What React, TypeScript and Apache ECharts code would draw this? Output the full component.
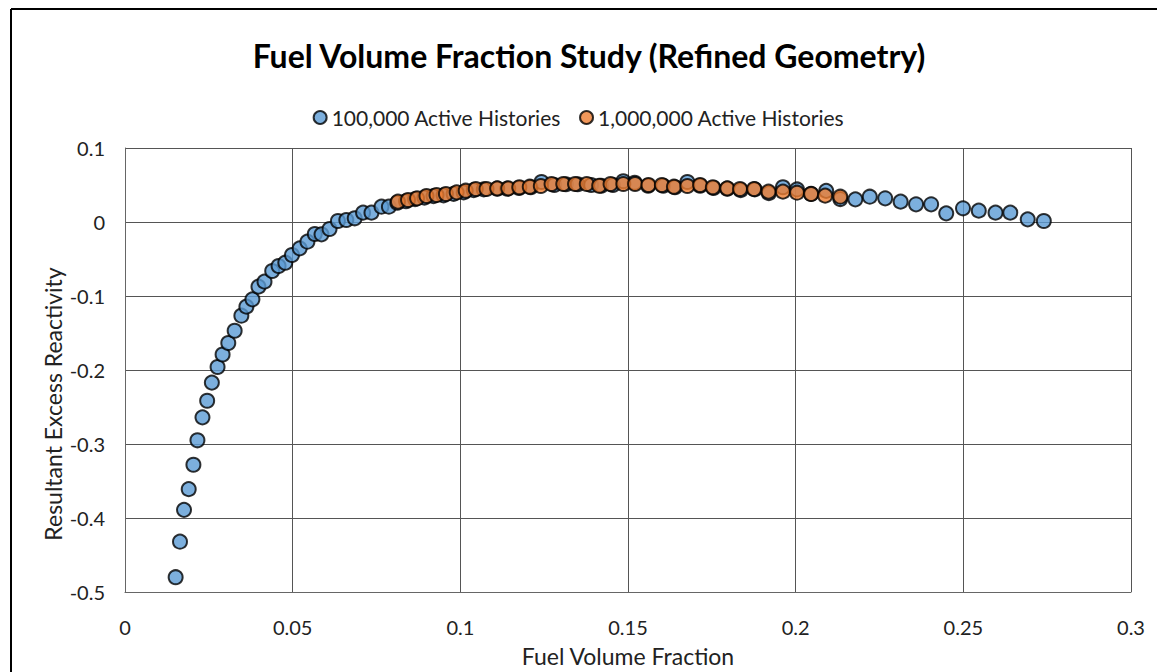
import React, { useEffect, useRef } from "react";
import * as echarts from "echarts";

const title = "Fuel Volume Fraction Study (Refined Geometry)";
const seriesNames = ["100,000 Active Histories", "1,000,000 Active Histories"];
const xAxisName = "Fuel Volume Fraction";
const yAxisName = "Resultant Excess Reactivity";

const blueX = [
  0.0151, 0.0164, 0.0176, 0.019, 0.0204, 0.0216, 0.0231, 0.0245, 0.0259, 0.0276,
  0.0291, 0.0308, 0.0327, 0.0347, 0.0362, 0.038, 0.0398, 0.0416, 0.0439, 0.0458,
  0.0478, 0.0498, 0.0521, 0.0544, 0.0566, 0.0586, 0.061, 0.0635, 0.066, 0.0685,
  0.071, 0.0735, 0.0765, 0.0787,
  0.0812, 0.0838, 0.0865, 0.0893, 0.092, 0.095, 0.098, 0.101, 0.104, 0.107,
  0.111, 0.114, 0.1175, 0.121, 0.1242, 0.128, 0.1315, 0.135, 0.139, 0.142,
  0.1455, 0.1486, 0.152, 0.156, 0.1605, 0.164, 0.1677, 0.1715, 0.1755, 0.1796,
  0.1836, 0.1878, 0.192, 0.1962, 0.2004, 0.2046, 0.2091, 0.2133,
  0.2178, 0.2221, 0.2267, 0.2313, 0.2359, 0.2404, 0.2449, 0.2499, 0.2546, 0.2596,
  0.264, 0.2692, 0.274,
];
const blueY = [
  -0.48, -0.432, -0.389, -0.361, -0.328, -0.295, -0.264, -0.2415, -0.217, -0.196,
  -0.179, -0.1635, -0.147, -0.1266, -0.1144, -0.1045, -0.0874, -0.0806, -0.0662, -0.0595,
  -0.055, -0.0446, -0.0356, -0.0266, -0.0162, -0.0167, -0.0095, 0.0014, 0.0027, 0.005,
  0.0126, 0.0126, 0.0207, 0.0207,
  0.026, 0.028, 0.031, 0.033, 0.035, 0.036, 0.038, 0.04, 0.043, 0.044,
  0.045, 0.045, 0.046, 0.047, 0.054, 0.05, 0.051, 0.051, 0.05, 0.049,
  0.05, 0.055, 0.053, 0.049, 0.049, 0.047, 0.054, 0.049, 0.046, 0.045,
  0.043, 0.044, 0.039, 0.047, 0.044, 0.038, 0.042, 0.031,
  0.0306, 0.0342, 0.032, 0.0275, 0.0239, 0.0239, 0.0117, 0.0185, 0.0153, 0.0126,
  0.0126, 0.0036, 0.0014,
];

const orangeX = [
  0.0814, 0.0844, 0.0871, 0.0899, 0.0929, 0.0957, 0.0989, 0.1016, 0.1046, 0.1078,
  0.111, 0.1143, 0.1176, 0.1207, 0.124, 0.1272, 0.1307, 0.1342, 0.1377, 0.1414,
  0.1448, 0.1486, 0.1521, 0.1561, 0.1601, 0.1637, 0.1677, 0.1715, 0.1753, 0.1796,
  0.1834, 0.1876, 0.1919, 0.1962, 0.2004, 0.2046, 0.2088, 0.2133,
];
const orangeY = [
  0.0275, 0.0297, 0.032, 0.0351, 0.0365, 0.0378, 0.0401, 0.0423, 0.0446, 0.0446,
  0.0455, 0.0455, 0.0469, 0.0477, 0.0486, 0.0514, 0.0514, 0.0514, 0.0514, 0.049,
  0.0514, 0.0514, 0.0514, 0.05, 0.05, 0.0477, 0.0486, 0.05, 0.0469, 0.0455,
  0.0446, 0.0446, 0.041, 0.041, 0.0396, 0.0378, 0.0356, 0.0342,
];

const FONT = "Lato, 'Open Sans', sans-serif";

export default function App() {
  const ref = useRef<HTMLDivElement>(null);
  useEffect(() => {
    document.body.style.margin = "0";
    const chart = echarts.init(ref.current!, null, { renderer: "svg" });
    const blue = blueX.map((x, i) => [x, blueY[i]]);
    const orange = orangeX.map((x, i) => [x, orangeY[i]]);
    chart.setOption({
      animation: false,
      backgroundColor: "#fff",
      textStyle: { fontFamily: FONT },
      title: {
        text: title,
        left: 584,
        textAlign: "center",
        top: 34,
        textStyle: { fontFamily: FONT, fontSize: 32, fontWeight: "bold", color: "#000" },
      },
      legend: {
        top: 102,
        left: "center",
        itemGap: 18,
        itemWidth: 13,
        itemHeight: 13,
        icon: "circle",
        textStyle: { fontFamily: FONT, fontSize: 21, color: "#222" },
        data: seriesNames,
      },
      grid: { left: 125, right: 26, top: 148, bottom: 80, containLabel: false },
      xAxis: {
        type: "value",
        min: 0,
        max: 0.3,
        interval: 0.05,
        name: xAxisName,
        nameLocation: "middle",
        nameGap: 52,
        nameTextStyle: { fontFamily: FONT, fontSize: 23, color: "#222" },
        axisLine: { onZero: false, show: true, lineStyle: { color: "#666" } },
        axisTick: { show: false },
        axisLabel: {
          margin: 25,
          fontFamily: FONT,
          fontSize: 20,
          color: "#222",
          formatter: (v: number) => String(parseFloat(v.toFixed(2))),
        },
        splitLine: { show: true, lineStyle: { color: "#555", width: 1 } },
      },
      yAxis: {
        type: "value",
        min: -0.5,
        max: 0.1,
        interval: 0.1,
        axisLine: { show: true, lineStyle: { color: "#666" } },
        axisTick: { show: false },
        axisLabel: {
          margin: 20,
          fontFamily: FONT,
          fontSize: 20,
          color: "#222",
          formatter: (v: number) => String(parseFloat(v.toFixed(1))),
        },
        splitLine: { show: true, lineStyle: { color: "#555", width: 1 } },
      },
      graphic: [
        { type: "line", shape: { x1: 11, y1: 9, x2: 1157, y2: 9 }, style: { stroke: "#000", lineWidth: 2 } },
        { type: "line", shape: { x1: 11, y1: 9, x2: 11, y2: 672 }, style: { stroke: "#000", lineWidth: 2 } },
        {
          type: "text",
          x: 53,
          y: 404,
          rotation: Math.PI / 2,
          style: {
            text: yAxisName,
            fontFamily: FONT,
            fontSize: 23,
            fill: "#222",
            align: "center",
            verticalAlign: "middle",
          },
        },
      ],
      series: [
        {
          name: seriesNames[0],
          type: "scatter",
          data: blue,
          symbol: "circle",
          symbolSize: 14,
          z: 2,
          itemStyle: { color: "#5B9BD5", borderColor: "#000", borderWidth: 2 },
        },
        {
          name: seriesNames[1],
          type: "scatter",
          data: orange,
          symbol: "circle",
          symbolSize: 14,
          z: 3,
          itemStyle: { color: "#ED7D31", borderColor: "#000", borderWidth: 2 },
        },
      ],
    });
    return () => chart.dispose();
  }, []);
  return <div ref={ref} style={{ width: 1157, height: 672 }} />;
}
